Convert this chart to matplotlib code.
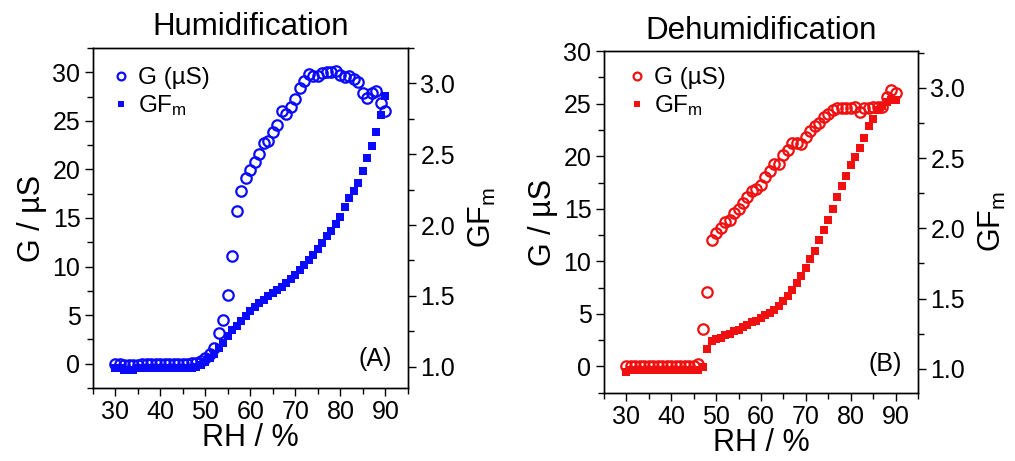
import numpy as np
import matplotlib.pyplot as plt
from matplotlib.ticker import MultipleLocator
plt.switch_backend("agg")

plt.rcParams['font.family'] = ['Liberation Sans', 'DejaVu Sans']
plt.rcParams['mathtext.default'] = 'regular'

rh = np.arange(30, 91)

# humidification branch
g_hum = [0.0, 0.0, -0.1, -0.1, -0.1, -0.1, 0.0, 0.0, 0.0, 0.0,
         0.0, 0.0, 0.0, 0.0, 0.0, 0.0, 0.0, 0.1, 0.1, 0.3,
         0.6, 1.0, 1.6, 3.2, 4.5, 7.1, 11.1, 15.7, 17.8, 19.1,
         19.9, 20.8, 21.6, 22.7, 22.9, 23.9, 24.6, 26.0, 25.7, 26.4,
         27.3, 28.4, 29.1, 29.8, 29.6, 29.6, 29.9, 30.0, 30.0, 30.1,
         29.7, 29.5, 29.6, 29.3, 29.0, 27.9, 27.4, 27.9, 28.1, 26.8,
         26.0]
gf_hum = [0.99, 0.99, 0.98, 0.98, 0.98, 0.99, 0.99, 0.99, 0.99, 0.99,
          0.99, 0.99, 0.99, 0.99, 0.99, 0.99, 0.99, 0.99, 1.00, 1.01,
          1.03, 1.06, 1.09, 1.13, 1.17, 1.22, 1.26, 1.29, 1.32, 1.36,
          1.39, 1.42, 1.45, 1.47, 1.50, 1.52, 1.54, 1.56, 1.59, 1.62,
          1.65, 1.68, 1.72, 1.75, 1.79, 1.83, 1.87, 1.92, 1.96, 2.01,
          2.06, 2.13, 2.19, 2.24, 2.30, 2.38, 2.47, 2.56, 2.66, 2.78,
          2.91]

# dehumidification branch
g_dehum = [0.0, 0.0, 0.0, 0.0, 0.0, 0.0, 0.0, 0.0, 0.0, 0.0,
           0.0, 0.0, 0.0, 0.0, 0.0, 0.0, 0.25, 3.6, 7.1, 12.0,
           12.7, 13.2, 13.7, 13.9, 14.6, 15.0, 15.6, 16.1, 16.7, 16.9,
           17.3, 18.0, 18.6, 19.3, 19.3, 20.1, 20.6, 21.3, 21.3, 21.2,
           21.8, 22.4, 22.9, 23.2, 23.7, 24.0, 24.4, 24.6, 24.6, 24.6,
           24.6, 24.7, 24.2, 24.6, 24.6, 24.7, 24.7, 24.7, 25.6, 26.3,
           26.0]
gf_dehum = [0.98, 0.99, 0.99, 0.99, 0.99, 0.99, 0.99, 0.99, 0.99, 0.99,
            0.99, 0.99, 0.99, 0.99, 0.99, 0.99, 0.99, 1.01, 1.14, 1.20,
            1.21, 1.22, 1.24, 1.25, 1.27, 1.28, 1.30, 1.31, 1.33, 1.34,
            1.36, 1.38, 1.40, 1.42, 1.45, 1.48, 1.52, 1.56, 1.61, 1.66,
            1.72, 1.78, 1.84, 1.92, 1.99, 2.06, 2.14, 2.22, 2.30, 2.37,
            2.45, 2.51, 2.57, 2.64, 2.73, 2.78, 2.84, 2.87, 2.90, 2.91,
            2.91]


def style_axis(ax):
    ax.tick_params(axis='both', which='both', direction='out', labelsize=18,
                   width=1.0, pad=3)
    ax.tick_params(which='major', length=6)
    ax.tick_params(which='minor', length=4)
    for s in ax.spines.values():
        s.set_linewidth(1.0)


def panel(rect, title, g, gf, color, tag, ylim_g, ylim_gf, leg_at):
    ax = fig.add_axes(rect)
    ax2 = ax.twinx()
    ax.plot(rh, g, 'o', mfc='none', mec=color, mew=1.6, ms=7.5,
            label='G (µS)', zorder=3)
    ax2.plot(rh, gf, 's', color=color, ms=5.2, mew=0, label='GF$_m$')
    ax.set_xlim(25, 95)
    ax.set_ylim(*ylim_g)
    ax2.set_ylim(*ylim_gf)
    ax.xaxis.set_major_locator(MultipleLocator(10))
    ax.xaxis.set_minor_locator(MultipleLocator(5))
    ax.yaxis.set_major_locator(MultipleLocator(5))
    ax.yaxis.set_minor_locator(MultipleLocator(2.5))
    ax2.yaxis.set_major_locator(MultipleLocator(0.5))
    ax2.yaxis.set_minor_locator(MultipleLocator(0.25))
    style_axis(ax)
    style_axis(ax2)
    ax.set_xlabel('RH / %', fontsize=22, labelpad=-1)
    ax.set_ylabel('G / µS', fontsize=22, labelpad=4)
    ax2.set_ylabel('GF$_m$', fontsize=22, labelpad=8)
    ax.set_title(title, fontsize=22.5, pad=9)
    ax.text(0.95, 0.05, tag, transform=ax.transAxes, ha='right', va='bottom',
            fontsize=18)
    h1, l1 = ax.get_legend_handles_labels()
    h2, l2 = ax2.get_legend_handles_labels()
    ax.legend(h1 + h2, l1 + l2, loc='upper left', bbox_to_anchor=leg_at,
              frameon=False, fontsize=17.5, borderaxespad=0, borderpad=0,
              handletextpad=0.3, labelspacing=0.17, handlelength=0.8,
              markerscale=0.75)
    return ax


fig = plt.figure(figsize=(10.15, 4.61), dpi=100)
panel([0.0916, 0.1584, 0.3103, 0.7375], 'Humidification', g_hum, gf_hum,
      '#0a0aff', '(A)', (-2.5, 32.5), (0.85, 3.25), (0.057, 0.944))
panel([0.595, 0.148, 0.3094, 0.741], 'Dehumidification', g_dehum, gf_dehum,
      '#f01010', '(B)', (-2.5, 30), (0.83, 3.26), (0.074, 0.953))

fig.savefig('out.png', dpi=100)
